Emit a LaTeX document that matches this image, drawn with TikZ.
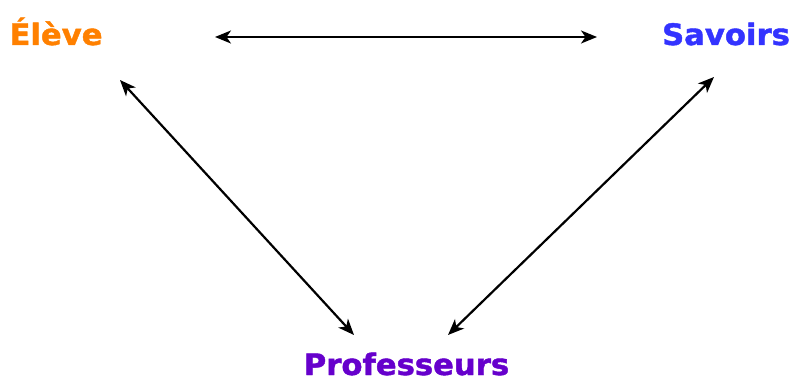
\documentclass[tikz,border=0pt]{standalone}
\usepackage{fontspec}
\newfontfamily\lblfont{DejaVu Sans}[UprightFont={* Bold}, FakeStretch=1.04, FakeBold=1.5]
\usetikzlibrary{arrows.meta}
\definecolor{eleve}{HTML}{FF8000}
\definecolor{savoirs}{HTML}{3333FF}
\definecolor{prof}{HTML}{6600CC}
\begin{document}
\begin{tikzpicture}[x=1pt,y=1pt,
  lbl/.style={font=\lblfont\fontsize{29.5}{34}\selectfont, inner sep=0pt, anchor=base},
  arr/.style={line width=2.2pt, {Stealth[length=16pt,width=13pt,inset=4.5pt]}-{Stealth[length=16pt,width=13pt,inset=4.5pt]}}]
\useasboundingbox (0,0) rectangle (792,381);
\node[lbl, text=eleve] (e) at (56,336) {Élève};
\node[lbl, text=savoirs] (s) at (726,336) {Savoirs};
\node[lbl, text=prof] (p) at (406.5,6) {Professeurs};
\coordinate (e1) at (215,344);
\coordinate (s1) at (597,344);
\coordinate (e2) at (120,301);
\coordinate (p1) at (354,46);
\coordinate (s2) at (714,304);
\coordinate (p2) at (448,46);
\draw[arr] (e1) -- (s1);
\draw[arr] (e2) -- (p1);
\draw[arr] (s2) -- (p2);
\end{tikzpicture}
\end{document}
